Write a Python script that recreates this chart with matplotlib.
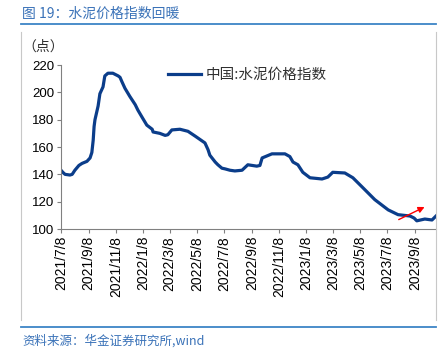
import numpy as np
import pandas as pd
import matplotlib
matplotlib.use("Agg")
import matplotlib.pyplot as plt
import matplotlib.dates as mdates
from matplotlib.lines import Line2D

plt.rcParams['font.family'] = ['Liberation Sans', 'Noto Sans CJK SC', 'DejaVu Sans']

# cement price index
dates = ["2021-07-08", "2021-07-12", "2021-07-17", "2021-07-28", "2021-08-02", "2021-08-08",
         "2021-08-17", "2021-08-24", "2021-09-04", "2021-09-11", "2021-09-15", "2021-09-18",
         "2021-09-20", "2021-09-22", "2021-09-29", "2021-10-03", "2021-10-10", "2021-10-14",
         "2021-10-21", "2021-11-01", "2021-11-13", "2021-11-17", "2021-11-21", "2021-11-28",
         "2021-12-09", "2021-12-21", "2021-12-27", "2022-01-05", "2022-01-16", "2022-01-28",
         "2022-01-30", "2022-02-14", "2022-02-26", "2022-03-04", "2022-03-13", "2022-03-31",
         "2022-04-18", "2022-05-04", "2022-05-26", "2022-06-02", "2022-06-06", "2022-06-18",
         "2022-06-24", "2022-07-03", "2022-07-10", "2022-07-21", "2022-08-01", "2022-08-17",
         "2022-08-30", "2022-09-19", "2022-09-26", "2022-10-01", "2022-10-23", "2022-11-21",
         "2022-12-02", "2022-12-09", "2022-12-20", "2022-12-31", "2023-01-16", "2023-02-12",
         "2023-02-25", "2023-03-08", "2023-04-04", "2023-04-22", "2023-05-12", "2023-06-10",
         "2023-07-10", "2023-08-01", "2023-08-28", "2023-09-06", "2023-09-12", "2023-09-30",
         "2023-10-16", "2023-10-25"]
index_values = [143, 141.5, 140, 139.5, 140, 143,
                146.5, 148, 149.5, 152, 156, 165,
                175, 180, 190, 199, 204, 212,
                214, 214, 212, 211, 208, 203,
                197, 191, 187, 182, 176, 173,
                171, 170, 168.5, 169, 172.5, 173,
                171.5, 168, 163, 158, 154, 149,
                147, 144.5, 144, 143, 142.5, 143,
                147, 146, 146.5, 152, 155, 155,
                153, 149, 147, 141.5, 137.5, 136.6,
                138, 141.5, 141, 137.5, 131, 121.5,
                114, 110.5, 109.5, 108, 106, 107.3,
                106.6, 109.5]

tick_dates = ["2021-07-08", "2021-09-08", "2021-11-08", "2022-01-08", "2022-03-08",
              "2022-05-08", "2022-07-08", "2022-09-08", "2022-11-08", "2023-01-08",
              "2023-03-08", "2023-05-08", "2023-07-08", "2023-09-08"]
tick_labels = ["2021/7/8", "2021/9/8", "2021/11/8", "2022/1/8", "2022/3/8",
               "2022/5/8", "2022/7/8", "2022/9/8", "2022/11/8", "2023/1/8",
               "2023/3/8", "2023/5/8", "2023/7/8", "2023/9/8"]
y_ticks = [100, 120, 140, 160, 180, 200, 220]

# red trend arrow (start, end)
arrow_start = ("2023-07-28", 106)
arrow_end = ("2023-10-05", 117)

x = pd.to_datetime(dates)

fig = plt.figure(figsize=(4.46, 3.52), dpi=100)
ax = fig.add_axes([0.1368, 0.3494, 0.8408, 0.4659])

line_color = '#0b3d8a'
ax.plot(x, index_values, color=line_color, lw=2.3, label='中国:水泥价格指数')

ax.annotate('', xy=(pd.Timestamp(arrow_end[0]), arrow_end[1]),
            xytext=(pd.Timestamp(arrow_start[0]), arrow_start[1]),
            arrowprops=dict(arrowstyle='-|>', color='red', lw=1, mutation_scale=9))

ax.set_xlim(pd.Timestamp("2021-07-08"), pd.Timestamp("2023-10-25"))
ax.set_ylim(100, 220)
ax.set_yticks(y_ticks)
ax.set_xticks(pd.to_datetime(tick_dates))
ax.set_xticklabels(tick_labels, rotation=90, fontsize=10)
ax.tick_params(axis='y', labelsize=9.5, length=3, color='#808080', pad=2)
ax.tick_params(axis='x', length=3, color='#808080', pad=2)

for s in ['top', 'right']:
    ax.spines[s].set_visible(False)
for s in ['left', 'bottom']:
    ax.spines[s].set_color('#808080')
    ax.spines[s].set_linewidth(0.8)

leg = ax.legend(loc='upper left', bbox_to_anchor=(0.25, 1.06), frameon=False,
                handlelength=2.3, handletextpad=0.3, fontsize=10.5)
for t in leg.get_texts():
    t.set_family(['Noto Sans CJK SC'])
    t.set_color('#303030')

fig.text(0.05, 0.868, '（点）', fontsize=10, family=['Noto Sans CJK SC'], color='#303030',
         va='center')

# title and frame
fig.text(0.05, 0.962, '图 19：水泥价格指数回暖', fontsize=10, color='#3a72b8',
         family=['Noto Sans CJK SC', 'DejaVu Sans'], va='center')
fig.add_artist(Line2D([0.047, 0.978], [0.932, 0.932], color='#3d85c6', lw=1.3))
fig.add_artist(Line2D([0.047, 0.978], [0.071, 0.071], color='#3d85c6', lw=1.3))
fig.add_artist(Line2D([0.047, 0.047], [0.909, 0.092], color='#c8c8c8', lw=0.8))
fig.add_artist(Line2D([0.978, 0.978], [0.909, 0.092], color='#c8c8c8', lw=0.8))
fig.text(0.05, 0.032, '资料来源：华金证券研究所,wind', fontsize=9, color='#3a72b8',
         style='italic', family=['Noto Sans CJK SC', 'DejaVu Sans'], va='center')

fig.savefig('out.png', dpi=100)
